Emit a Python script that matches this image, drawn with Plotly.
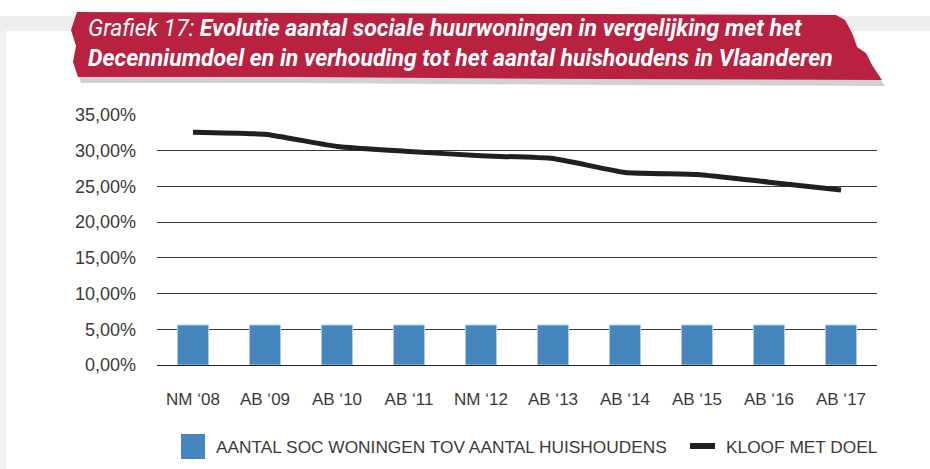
import plotly.graph_objects as go

categories = ["NM ‘08", "AB ‘09", "AB ‘10", "AB ‘11", "NM ‘12",
              "AB ‘13", "AB ‘14", "AB ‘15", "AB ‘16", "AB ‘17"]
aantal_soc = [0.056, 0.056, 0.056, 0.056, 0.056, 0.056, 0.056, 0.056, 0.056, 0.056]
kloof = [0.326, 0.323, 0.306, 0.299, 0.293, 0.289, 0.2695, 0.2667, 0.256, 0.245]
y_ticks = [0, 0.05, 0.10, 0.15, 0.20, 0.25, 0.30, 0.35]
name_bar = "AANTAL SOC WONINGEN TOV AANTAL HUISHOUDENS"
name_line = "KLOOF MET DOEL"
title_prefix = "Grafiek 17: "
title_line1 = "Evolutie aantal sociale huurwoningen in vergelijking met het"
title_line2 = "Decenniumdoel en in verhouding tot het aantal huishoudens in Vlaanderen"

W, H = 930, 469
L, R, T, B = 157, 53, 115, 104
PW, PH = W - L - R, H - T - B


def px(x):
    return (x - L) / PW


def py(y):
    return (H - B - y) / PH


def path(points):
    return "M " + " L ".join(f"{px(x):.5f},{py(y):.5f}" for x, y in points) + " Z"


BAR_COLOR = "#4686BE"
LINE_COLOR = "#231F20"
RED = "#B8213F"
TXT = "#3a3a3a"
FONT = "Liberation Sans, Arial, sans-serif"

fig = go.Figure()
fig.add_trace(go.Bar(x=categories, y=aantal_soc, name=name_bar, width=0.43,
                     marker=dict(color=BAR_COLOR, line=dict(color="#a8c8e6", width=1)),
                     showlegend=False))
fig.add_trace(go.Scatter(x=categories, y=kloof, name=name_line, mode="lines",
                         line=dict(color=LINE_COLOR, width=5, shape="spline", smoothing=0.4),
                         showlegend=False))

banner = [(77, 12), (300, 13), (600, 14), (836, 15), (845, 20), (852, 33), (857, 47),
          (866, 53), (872, 65), (882, 80), (600, 79), (300, 77), (78, 77), (73, 62),
          (76, 46), (71, 30)]
shadow = [(x + 3, y + 6) for x, y in banner]

shapes = [
    dict(type="rect", xref="paper", yref="paper", x0=px(0), x1=px(W), y0=py(31), y1=py(16),
         fillcolor="#eeeeee", line=dict(width=0), layer="below"),
    dict(type="rect", xref="paper", yref="paper", x0=px(0), x1=px(6), y0=py(H), y1=py(31),
         fillcolor="#f0f0f0", line=dict(width=0), layer="below"),
    dict(type="path", xref="paper", yref="paper", path=path(shadow),
         fillcolor="rgba(0,0,0,0.18)", line=dict(width=0), layer="above"),
    dict(type="path", xref="paper", yref="paper", path=path(banner),
         fillcolor=RED, line=dict(width=0), layer="above"),
    # legend symbols
    dict(type="rect", xref="paper", yref="paper", x0=px(181), x1=px(205), y0=py(459), y1=py(434),
         fillcolor=BAR_COLOR, line=dict(width=0)),
    dict(type="rect", xref="paper", yref="paper", x0=px(690), x1=px(715), y0=py(449), y1=py(443),
         fillcolor=LINE_COLOR, line=dict(width=0)),
]

TITLE_FONT = "Roboto, Arial, sans-serif"
annotations = [
    dict(xref="paper", yref="paper", x=px(86), y=py(29), xanchor="left", yanchor="middle",
         showarrow=False, align="left",
         text=f"<i>{title_prefix}</i><b><i>{title_line1}</i></b>",
         font=dict(family=TITLE_FONT, size=23, color="white")),
    dict(xref="paper", yref="paper", x=px(86), y=py(58), xanchor="left", yanchor="middle",
         showarrow=False, align="left",
         text=f"<b><i>{title_line2}</i></b>",
         font=dict(family=TITLE_FONT, size=23, color="white")),
    dict(xref="paper", yref="paper", x=px(214), y=py(447), xanchor="left", yanchor="middle",
         showarrow=False, text=name_bar, font=dict(family=FONT, size=17.3, color=TXT)),
    dict(xref="paper", yref="paper", x=px(724), y=py(447), xanchor="left", yanchor="middle",
         showarrow=False, text=name_line, font=dict(family=FONT, size=17.3, color=TXT)),
]

fig.update_layout(
    width=W, height=H,
    margin=dict(l=L, r=R, t=T, b=B, pad=0),
    paper_bgcolor="white", plot_bgcolor="white",
    separators=",.",
    font=dict(family=FONT, size=17, color=TXT),
    shapes=shapes, annotations=annotations,
    showlegend=False,
    bargap=0.57,
)
fig.update_xaxes(showgrid=False, showline=False, ticks="", ticklabelstandoff=22,
                 tickfont=dict(size=17, color=TXT))
fig.update_yaxes(range=[0, 0.35], tickvals=y_ticks, tickformat=".2%", showgrid=True,
                 gridcolor="#3c3c3c", gridwidth=1, zeroline=True, zerolinecolor="#222",
                 zerolinewidth=1, showline=False, ticks="", ticklabelstandoff=20,
                 tickfont=dict(size=18, color=TXT))

fig.write_html("out.html", config={"displayModeBar": False},
               post_script="document.body.style.margin='0';")
